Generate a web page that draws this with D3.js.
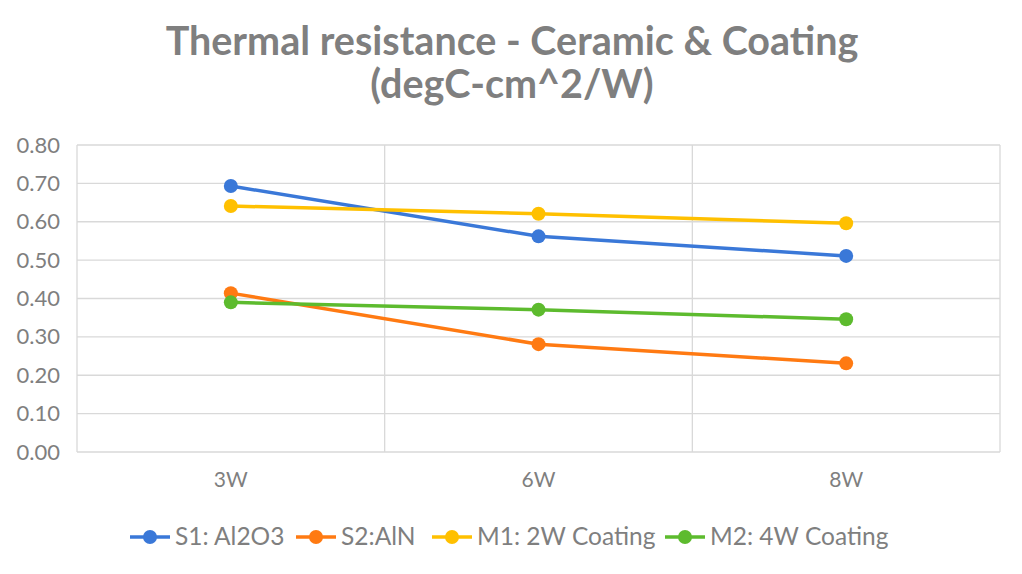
<!DOCTYPE html>
<html><head><meta charset="utf-8">
<script src="https://cdn.jsdelivr.net/npm/d3@7"></script>
<style>body{margin:0;background:#fff;} text{font-family:Lato,"Open Sans",sans-serif;}</style>
</head><body>
<svg id="c" width="1022" height="574"></svg>
<script>
const categories = ["3W", "6W", "8W"];
const seriesNames = ["S1: Al2O3", "S2:AlN", "M1: 2W Coating", "M2: 4W Coating"];
const s1 = [0.693, 0.562, 0.511];
const s2 = [0.414, 0.281, 0.231];
const m1 = [0.641, 0.621, 0.596];
const m2 = [0.390, 0.371, 0.346];
const yTicks = [0, 0.1, 0.2, 0.3, 0.4, 0.5, 0.6, 0.7, 0.8];
const colors = ["#3a78d8", "#ff7a12", "#ffc000", "#5dbb2e"];
const seriesValues = [s1, s2, m1, m2];

const svg = d3.select("#c");
const W = 1022, H = 574;
const m = {left: 77, right: 22, top: 145, bottom: 122};
const pw = W - m.left - m.right, ph = H - m.top - m.bottom;
const x = d3.scaleBand().domain(categories).range([m.left, m.left + pw]);
const y = d3.scaleLinear().domain([0, 0.8]).range([m.top + ph, m.top]);
const grey = "#7f7f7f", gridC = "#d9d9d9";

svg.append("rect").attr("width", W).attr("height", H).attr("fill", "#fff");

// title
const title = svg.append("text").attr("text-anchor", "middle").attr("fill", grey)
  .attr("font-weight", "bold").attr("font-size", 39.5);
title.append("tspan").attr("x", 512).attr("y", 55).text("Thermal resistance - Ceramic & Coating");
title.append("tspan").attr("x", 512).attr("y", 98).text("(degC-cm^2/W)");

// horizontal grid
svg.append("g").selectAll("line").data(yTicks).join("line")
  .attr("x1", m.left).attr("x2", m.left + pw)
  .attr("y1", d => y(d)).attr("y2", d => y(d))
  .attr("stroke", gridC).attr("stroke-width", 1.3);
// vertical grid at category boundaries
const bounds = categories.map(c => x(c)).concat([x(categories[categories.length-1]) + x.bandwidth()]);
svg.append("g").selectAll("line").data(bounds).join("line")
  .attr("x1", d => d).attr("x2", d => d)
  .attr("y1", m.top).attr("y2", m.top + ph)
  .attr("stroke", gridC).attr("stroke-width", 1.3);

// y axis
const yAxis = d3.axisLeft(y).tickValues(yTicks).tickFormat(d3.format(".2f")).tickSize(0).tickPadding(17);
const ya = svg.append("g").attr("transform", `translate(${m.left},0)`).call(yAxis);
ya.select(".domain").remove();
ya.selectAll("text").attr("fill", grey).attr("font-size", 22).style("font-family", "Lato,'Open Sans',sans-serif");

// x axis
const xAxis = d3.axisBottom(x).tickSize(0).tickPadding(20);
const xa = svg.append("g").attr("transform", `translate(0,${m.top + ph})`).call(xAxis);
xa.select(".domain").remove();
xa.selectAll("text").attr("fill", grey).attr("font-size", 21).style("font-family", "Lato,'Open Sans',sans-serif");

// lines
const line = d3.line().x((d, i) => x(categories[i]) + x.bandwidth() / 2).y(d => y(d));
seriesValues.forEach((vals, si) => {
  const g = svg.append("g");
  g.append("path").datum(vals).attr("d", line).attr("fill", "none")
    .attr("stroke", colors[si]).attr("stroke-width", 3.5).attr("stroke-linejoin", "round");
  g.selectAll("circle").data(vals).join("circle")
    .attr("cx", (d, i) => x(categories[i]) + x.bandwidth() / 2)
    .attr("cy", d => y(d)).attr("r", 7).attr("fill", colors[si]);
});

// legend
const legendX = [130, 296, 432, 665];
const ly = 537;
seriesNames.forEach((name, i) => {
  const g = svg.append("g").attr("transform", `translate(${legendX[i]},${ly})`);
  g.append("line").attr("x1", 0).attr("x2", 40).attr("stroke", colors[i]).attr("stroke-width", 3.5);
  g.append("circle").attr("cx", 20).attr("r", 7).attr("fill", colors[i]);
  g.append("text").attr("x", 45).attr("y", 8).attr("fill", grey).attr("font-size", 24.5).text(name);
});
</script>
</body></html>
